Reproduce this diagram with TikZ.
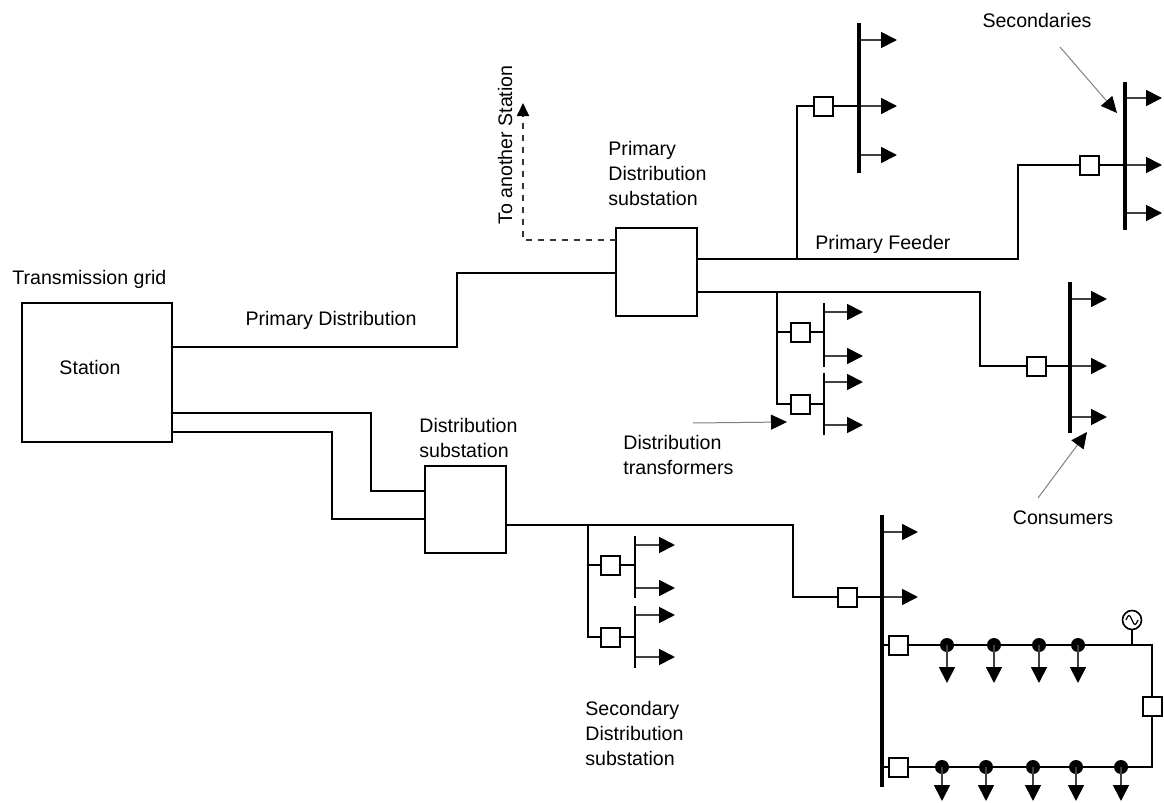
\documentclass[tikz,border=0pt]{standalone}
\usepackage{fontspec}
\setmainfont{Liberation Sans}
\usepackage{tikz}
\usetikzlibrary{positioning, arrows.meta}
\tikzstyle{diagram} = [x = .5pt, y = -.5pt]
\tikzstyle{feederLine} = [color=black, line width = 1pt]
\tikzstyle{boxStyle} = [draw, line width = 1pt, inner sep = 0pt]
\tikzstyle{breakerStyle} = [draw, fill = white, line width = 1pt, minimum size = 9.5pt, inner sep = 0pt]
\tikzstyle{busStyle} = [line width = 2.2pt]
\tikzstyle{smallBusStyle} = [line width = 1.3pt]
\tikzstyle{loadArrow} = [color = black!75, line width = .9pt, -{Triangle[length = 8pt, width = 8pt, color = black]}]
\tikzstyle{pointerArrow} = [color = gray, line width = .5pt, -{Triangle[length = 8pt, width = 7.5pt, color = black]}]
\tikzstyle{dashedLine} = [color = black!80, line width = .9pt, dashed, -{Triangle[length = 6.5pt, width = 6pt, color = black]}]
\tikzstyle{loadDot} = [circle, fill, minimum size = 7pt, inner sep = 0pt]
\tikzstyle{labelText} = [inner sep = 0pt, align = left, font = \fontsize{9.8}{12.5}\selectfont]
\newcommand{\breaker}[3]{\node [breakerStyle] (#1) at (#2, #3) {};}
\newcommand{\busBar}[5]{
  \coordinate (#1Top) at (#2, #3);
  \coordinate (#1Bottom) at (#2, #4);
  \draw [#5] (#1Top) -- (#1Bottom);
}
\newcommand{\loadArrows}[3]{
  \foreach \yLoad in {#3} {
    \draw [loadArrow] (#1, \yLoad) -- + (#2, 0);
  }
}
\newcommand{\loadDots}[3]{
  \foreach \xDot in {#3} {
    \node [loadDot] (dot\xDot) at (\xDot, #1) {};
    \draw [loadArrow] (dot\xDot.center) -- (\xDot, #2);
  }
}

\begin{document}
\begin{tikzpicture}[diagram]
  \useasboundingbox (0,0) rectangle (1164,803);

  \node [boxStyle, minimum width = 75pt, minimum height = 69.5pt] (station) at (97, 372.5) {};
  \node [boxStyle, minimum width = 40.5pt, minimum height = 44pt] (primarySub) at (656.5, 272) {};
  \node [boxStyle, minimum width = 40.5pt, minimum height = 43.5pt] (distSub) at (465.5, 509.5) {};

  \node [labelText, anchor = west] (gridText) at (12, 279) {Transmission grid};
  \node [labelText] (stationText) at (90, 367) {Station};
  \node [labelText] (pdText) at (331, 320) {Primary Distribution};
  \node [labelText, rotate = 90] (toStationText) at (505, 145) {To another Station};
  \node [labelText, anchor = west] (primarySubText) at (608, 173) {Primary\\Distribution\\substation};
  \node [labelText, anchor = west] (feederText) at (815, 244) {Primary Feeder};
  \node [labelText] (secText) at (1037, 20) {Secondaries};
  \node [labelText, anchor = west] (trText) at (623, 455) {Distribution\\transformers};
  \node [labelText] (consText) at (1063, 518) {Consumers};
  \node [labelText, anchor = west] (distSubText) at (419, 438) {Distribution\\substation};
  \node [labelText, anchor = west] (secSubText) at (585, 733) {Secondary\\Distribution\\substation};

  \breaker{breakerTop}{823}{106}
  \breaker{breakerSec}{1089}{165}
  \breaker{breakerCons}{1036}{366}
  \breaker{breakerTrA}{800}{332}
  \breaker{breakerTrB}{800}{404}
  \breaker{breakerFeed}{847}{597}
  \breaker{breakerSubA}{610}{565}
  \breaker{breakerSubB}{610}{637}
  \breaker{breakerUp}{898}{645}
  \breaker{breakerLow}{898}{767}
  \breaker{breakerRing}{1152}{706}

  \loadArrows{859}{38}{40,106,155}
  \loadArrows{1125}{37}{98,165,213}
  \loadArrows{1070}{37}{299,366,417}
  \loadArrows{824}{39}{312,356,382,425}
  \loadArrows{882}{36}{532,597}
  \loadArrows{635}{40}{545,588,615,657}

  \busBar{topBus}{859}{23}{173}{busStyle}
  \busBar{secBus}{1125}{82}{230}{busStyle}
  \busBar{consBus}{1070}{282}{433}{busStyle}
  \busBar{trBusA}{824}{303}{367}{smallBusStyle}
  \busBar{trBusB}{824}{373}{435}{smallBusStyle}
  \busBar{ringBus}{882}{515}{787}{busStyle}
  \busBar{subBusA}{635}{536}{598}{smallBusStyle}
  \busBar{subBusB}{635}{606}{668}{smallBusStyle}

  \coordinate (pdStart) at (172, 347);
  \coordinate (pdBend) at (457, 273);
  \coordinate (dashStart) at (616, 240);
  \coordinate (toStation) at (523, 103);
  \coordinate (feederStart) at (697, 259);
  \coordinate (feederBend) at (1018, 165);
  \coordinate (teeTop) at (797, 259);
  \coordinate (consStart) at (697, 292);
  \coordinate (consBend) at (980, 366);
  \coordinate (teeTr) at (777, 292);
  \coordinate (lowStartA) at (172, 413);
  \coordinate (lowBendA) at (371, 491);
  \coordinate (lowStartB) at (172, 432);
  \coordinate (lowBendB) at (332, 519);
  \coordinate (distStart) at (506, 525);
  \coordinate (distBend) at (793, 597);
  \coordinate (teeSub) at (588, 525);
  \coordinate (ringCornerA) at (1152, 645);
  \coordinate (ringCornerB) at (1152, 767);

  \draw [feederLine] (pdStart) -| (pdBend) -- (pdBend -| primarySub.west);
  \draw [dashedLine] (dashStart) -| (toStation);
  \draw [feederLine] (feederStart) -| (feederBend) -- (breakerSec);
  \draw [feederLine] (breakerSec) -- (breakerSec -| secBusTop);
  \draw [feederLine] (teeTop) |- (breakerTop);
  \draw [feederLine] (breakerTop) -- (breakerTop -| topBusTop);
  \draw [feederLine] (consStart) -| (consBend) -- (breakerCons);
  \draw [feederLine] (breakerCons) -- (breakerCons -| consBusTop);
  \draw [feederLine] (teeTr) |- (breakerTrA);
  \draw [feederLine] (teeTr) |- (breakerTrB);
  \draw [feederLine] (breakerTrA) -- (breakerTrA -| trBusATop);
  \draw [feederLine] (breakerTrB) -- (breakerTrB -| trBusBTop);
  \draw [feederLine] (lowStartA) -| (lowBendA) -- (lowBendA -| distSub.west);
  \draw [feederLine] (lowStartB) -| (lowBendB) -- (lowBendB -| distSub.west);
  \draw [feederLine] (distStart) -| (distBend) -- (breakerFeed);
  \draw [feederLine] (breakerFeed) -- (breakerFeed -| ringBusTop);
  \draw [feederLine] (teeSub) |- (breakerSubA);
  \draw [feederLine] (teeSub) |- (breakerSubB);
  \draw [feederLine] (breakerSubA) -- (breakerSubA -| subBusATop);
  \draw [feederLine] (breakerSubB) -- (breakerSubB -| subBusBTop);
  \draw [feederLine] (breakerUp -| ringBusTop) -- (breakerUp);
  \draw [feederLine] (breakerLow -| ringBusTop) -- (breakerLow);
  \draw [feederLine] (breakerUp) -- (ringCornerA) -- (breakerRing) -- (ringCornerB) -- (breakerLow);

  \loadDots{645}{683}{947,994,1039,1078}
  \loadDots{767}{801}{942,986,1033,1076,1121}

  \node [draw, circle, line width = .8pt, minimum size = 9.5pt, inner sep = 0pt] (gen) at (1132, 620) {};
  \draw [line width = .6pt] ([xshift = -3pt] gen.center) .. controls + (1.2pt, 3pt) and + (-1.2pt, 3pt) .. (gen.center) .. controls + (1.2pt, -3pt) and + (-1.2pt, -3pt) .. ([xshift = 3pt] gen.center);
  \draw [feederLine] (gen.south) -- (gen.south |- ringCornerA);

  \coordinate (secPointer) at (1060, 47);
  \coordinate (secTip) at (1117, 113);
  \coordinate (consPointer) at (1038, 498);
  \coordinate (consTip) at (1087, 432);
  \coordinate (trPointer) at (693, 423);
  \coordinate (trTip) at (787, 422);
  \draw [pointerArrow] (secPointer) -- (secTip);
  \draw [pointerArrow] (consPointer) -- (consTip);
  \draw [pointerArrow] (trPointer) -- (trTip);
\end{tikzpicture}
\end{document}
